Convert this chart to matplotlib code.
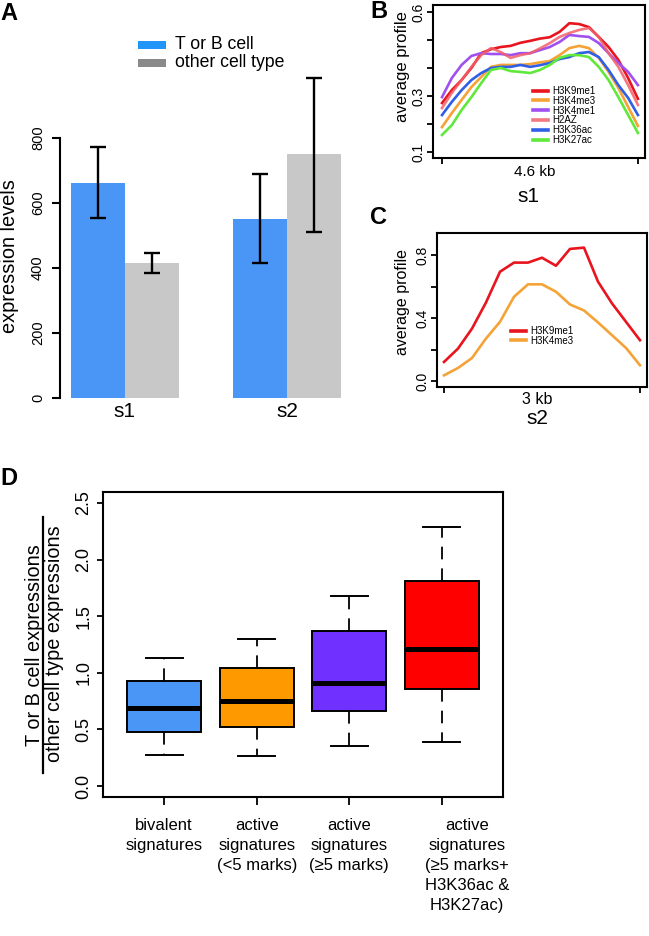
import matplotlib
matplotlib.use("Agg")
import matplotlib.pyplot as plt
from matplotlib.lines import Line2D
from matplotlib.patches import Rectangle
from matplotlib.transforms import blended_transform_factory
import numpy as np

plt.rcParams['font.family'] = ['Liberation Sans', 'DejaVu Sans']

# ---------------- data ----------------
# Panel A
groups = ['s1', 's2']
tb_mean = [662, 551]
tb_lo = [554, 416]
tb_hi = [772, 688]
other_mean = [415, 751]
other_lo = [385, 512]
other_hi = [446, 985]
legend_a = ['T or B cell', 'other cell type']

# Panel B (s1, 4.6 kb profiles)
b_names = ['H3K9me1', 'H3K4me3', 'H3K4me1', 'H2AZ', 'H3K36ac', 'H3K27ac']
b_H3K9me1 = [0.275, 0.321, 0.357, 0.400, 0.453, 0.467, 0.475, 0.479, 0.490, 0.497, 0.505,
             0.510, 0.529, 0.560, 0.557, 0.546, 0.511, 0.475, 0.429, 0.364, 0.290]
b_H3K4me3 = [0.189, 0.239, 0.286, 0.332, 0.368, 0.404, 0.411, 0.411, 0.411, 0.414, 0.420,
             0.425, 0.446, 0.471, 0.479, 0.471, 0.436, 0.386, 0.329, 0.261, 0.193]
b_H3K4me1 = [0.296, 0.364, 0.411, 0.443, 0.453, 0.450, 0.450, 0.446, 0.453, 0.453, 0.464,
             0.475, 0.493, 0.518, 0.514, 0.511, 0.489, 0.453, 0.418, 0.386, 0.339]
b_H2AZ = [0.257, 0.311, 0.357, 0.404, 0.446, 0.471, 0.457, 0.436, 0.446, 0.453, 0.470,
          0.489, 0.511, 0.525, 0.536, 0.543, 0.511, 0.453, 0.404, 0.339, 0.268]
b_H3K36ac = [0.232, 0.279, 0.321, 0.357, 0.382, 0.400, 0.404, 0.404, 0.411, 0.404, 0.410,
             0.418, 0.432, 0.439, 0.453, 0.457, 0.439, 0.393, 0.339, 0.293, 0.232]
b_H3K27ac = [0.161, 0.196, 0.250, 0.296, 0.346, 0.393, 0.400, 0.389, 0.386, 0.382, 0.393,
             0.411, 0.436, 0.446, 0.446, 0.439, 0.404, 0.357, 0.296, 0.232, 0.168]

# Panel C (s2, 3 kb profiles)
c_names = ['H3K9me1', 'H3K4me3']
c_H3K9me1 = [0.121, 0.206, 0.333, 0.499, 0.694, 0.752, 0.752, 0.783, 0.732, 0.839, 0.847,
             0.631, 0.493, 0.376, 0.259]
c_H3K4me3 = [0.036, 0.083, 0.146, 0.270, 0.376, 0.535, 0.614, 0.614, 0.567, 0.486, 0.448,
             0.372, 0.291, 0.210, 0.100]

# Panel D (box plots)
d_labels = ['bivalent\nsignatures',
            'active\nsignatures\n(<5 marks)',
            'active\nsignatures\n(\u22655 marks)',
            'active\nsignatures\n(\u22655 marks+\nH3K36ac &\nH3K27ac)']
d_whislo = [0.27, 0.265, 0.35, 0.39]
d_q1 = [0.48, 0.52, 0.665, 0.86]
d_med = [0.69, 0.75, 0.91, 1.21]
d_q3 = [0.93, 1.04, 1.37, 1.81]
d_whishi = [1.13, 1.30, 1.68, 2.29]

# ---------------- figure ----------------
W, H = 649, 936
fig = plt.figure(figsize=(W / 100, H / 100), dpi=100)


def add_ax(l, t, r, b):
    return fig.add_axes([l / W, 1 - b / H, (r - l) / W, (b - t) / H])


def ftext(x, y, s, **kw):
    return fig.text(x / W, 1 - y / H, s, **kw)


def rot_yticks(ax, size, pad, length, width=1.3):
    ax.tick_params(axis='y', labelrotation=90, labelsize=size, pad=pad,
                   length=length, width=width)
    for lab in ax.get_yticklabels():
        lab.set_va('center')


# ---------- Panel A ----------
axA = add_ax(60, 60, 352, 398)
cols_bar = ['#4A96F7', '#C8C8C8']
cols_leg = ['#2196F8', '#8A8A8A']
gx = np.array([2.0, 5.0])
axA.bar(gx - 0.5, tb_mean, width=1.0, color=cols_bar[0], linewidth=0)
axA.bar(gx + 0.5, other_mean, width=1.0, color=cols_bar[1], linewidth=0)
tb_err = [np.array(tb_mean) - np.array(tb_lo), np.array(tb_hi) - np.array(tb_mean)]
ot_err = [np.array(other_mean) - np.array(other_lo), np.array(other_hi) - np.array(other_mean)]
axA.errorbar(gx - 0.5, tb_mean, yerr=tb_err, fmt='none', ecolor='black',
             elinewidth=1.7, capsize=5.8, capthick=1.7, clip_on=False)
axA.errorbar(gx + 0.5, other_mean, yerr=ot_err, fmt='none', ecolor='black',
             elinewidth=1.7, capsize=5.8, capthick=1.7, clip_on=False)
axA.set_xlim(0.8, 6.2)
axA.set_ylim(0, 1040)
for s in ['top', 'right', 'bottom']:
    axA.spines[s].set_visible(False)
axA.spines['left'].set_bounds(0, 800)
axA.spines['left'].set_linewidth(1.5)
axA.set_yticks([0, 200, 400, 600, 800])
rot_yticks(axA, 10.5, 5, 5.8, 1.5)
axA.set_xticks(gx)
axA.set_xticklabels(groups, fontsize=15)
axA.tick_params(axis='x', length=0, pad=3)
ftext(10, 256, 'expression levels', rotation=90, ha='center', va='center', fontsize=14.4)
# legend A
for i, (lab, c) in enumerate(zip(legend_a, cols_leg)):
    y0 = 41 + i * 18
    fig.add_artist(Rectangle((138 / W, 1 - (y0 + 8) / H), 28 / W, 8 / H,
                             transform=fig.transFigure, color=c, lw=0))
    ftext(175, 49.3 + i * 17.5, lab, fontsize=12.7, va='baseline', ha='left')
ftext(0, 20, 'A', fontsize=17, fontweight='bold', ha='left', va='baseline')

# ---------- Panel B ----------
axB = add_ax(433, 5, 645, 158)
b_series = [b_H3K9me1, b_H3K4me3, b_H3K4me1, b_H2AZ, b_H3K36ac, b_H3K27ac]
b_cols = ['#E8141E', '#F5A336', '#A050F0', '#F2606A', '#2F5FE6', '#60E83A']
b_alpha = [1, 1, 1, 0.85, 1, 1]
xb = np.arange(len(b_H3K9me1))
handles = []
for ser, c, a, n in zip(b_series, b_cols, b_alpha, b_names):
    h, = axB.plot(xb, ser, color=c, lw=1.9, alpha=a, label=n)
    handles.append(h)
axB.set_xlim(-0.92, 20.72)
axB.set_ylim(0.0786, 0.625)
axB.set_yticks([0.1, 0.2, 0.3, 0.4, 0.5, 0.6])
axB.set_yticklabels(['0.1', '', '0.3', '', '', '0.6'])
rot_yticks(axB, 10, 1.5, 4, 1.3)
axB.set_xticks([0, 20])
axB.set_xticklabels(['', ''])
axB.tick_params(axis='x', length=4.5, width=1.3)
for s in axB.spines.values():
    s.set_linewidth(1.5)
leg = axB.legend(handles=handles, loc='upper left',
                 bbox_to_anchor=((533 - 433) / 212, 1 - (86 - 5) / 153),
                 frameon=False, fontsize=7, handlelength=1.55, handletextpad=0.45,
                 labelspacing=-0.02, borderpad=0, borderaxespad=0)
for l in leg.get_lines():
    l.set_linewidth(2.6)
ftext(403, 67, 'average profile', rotation=90, ha='center', va='center', fontsize=12)
ftext(535, 172, '4.6 kb', ha='center', va='center', fontsize=11)
ftext(528, 197, 's1', ha='center', va='center', fontsize=15)
ftext(370, 18, 'B', fontsize=17, fontweight='bold', ha='left', va='baseline')

# ---------- Panel C ----------
axC = add_ax(437, 233, 647, 387)
xc = np.arange(len(c_H3K9me1))
hc = []
for ser, c, n in zip([c_H3K9me1, c_H3K4me3], ['#E8141E', '#F5A336'], c_names):
    h, = axC.plot(xc, ser, color=c, lw=1.9, label=n)
    hc.append(h)
axC.set_xlim(-0.5, 14.5)
axC.set_ylim(-0.038, 0.94)
axC.set_yticks([0.0, 0.2, 0.4, 0.6, 0.8])
axC.set_yticklabels(['0.0', '', '0.4', '', '0.8'])
rot_yticks(axC, 10, 1.5, 4, 1.3)
axC.set_xticks([0, 14])
axC.set_xticklabels(['', ''])
axC.tick_params(axis='x', length=4.5, width=1.3)
for s in axC.spines.values():
    s.set_linewidth(1.5)
legc = axC.legend(handles=hc, loc='upper left',
                  bbox_to_anchor=((511 - 437) / 210, 1 - (326 - 233) / 154),
                  frameon=False, fontsize=7, handlelength=1.55, handletextpad=0.45,
                  labelspacing=-0.02, borderpad=0, borderaxespad=0)
for l in legc.get_lines():
    l.set_linewidth(2.6)
ftext(403, 302, 'average profile', rotation=90, ha='center', va='center', fontsize=11.5)
ftext(537, 400, '3 kb', ha='center', va='center', fontsize=11.5)
ftext(537, 418, 's2', ha='center', va='center', fontsize=15)
ftext(370, 224, 'C', fontsize=17, fontweight='bold', ha='left', va='baseline')

# ---------- Panel D ----------
axD = add_ax(103, 492, 503, 797)
d_cols = ['#4A96F7', '#FF9900', '#7030FF', '#FF0000']
stats = []
for i in range(4):
    stats.append(dict(whislo=d_whislo[i], q1=d_q1[i], med=d_med[i], q3=d_q3[i],
                      whishi=d_whishi[i], fliers=[]))
bp = axD.bxp(stats, positions=[1, 2, 3, 4], widths=0.8, capwidths=0.4,
             patch_artist=True, showfliers=False,
             boxprops=dict(linewidth=1.4, edgecolor='black'),
             whiskerprops=dict(linewidth=1.3, linestyle=(0, (7, 5)), color='black'),
             capprops=dict(linewidth=1.4, color='black'),
             medianprops=dict(linewidth=3.6, color='black', solid_capstyle='butt'))
for patch, c in zip(bp['boxes'], d_cols):
    patch.set_facecolor(c)
axD.set_xlim(0.34, 4.66)
axD.set_ylim(-0.097, 2.597)
axD.set_yticks([0.0, 0.5, 1.0, 1.5, 2.0, 2.5])
axD.set_yticklabels(['0.0', '0.5', '1.0', '1.5', '2.0', '2.5'])
rot_yticks(axD, 13, 3, 4.5, 1.3)
axD.set_xticks([1, 2, 3, 4])
axD.set_xticklabels(['', '', '', ''])
axD.tick_params(axis='x', length=5.5, width=1.3)
for s in axD.spines.values():
    s.set_linewidth(1.5)
trD = blended_transform_factory(axD.transData, fig.transFigure)
label_x = [1, 2, 3, 4.27]
for x, lab in zip(label_x, d_labels):
    axD.text(x, 1 - 818 / H, lab, transform=trD, ha='center', va='top',
             fontsize=12, linespacing=1.42, multialignment='center')
ftext(35, 645, 'T or B cell expressions', rotation=90, ha='center', va='center', fontsize=14.3)
ftext(55, 644, 'other cell type expressions', rotation=90, ha='center', va='center', fontsize=14.3)
fig.add_artist(Line2D([43 / W, 43 / W], [1 - 517 / H, 1 - 773 / H], lw=1.6, color='black'))
ftext(0, 485, 'D', fontsize=17, fontweight='bold', ha='left', va='baseline')

fig.savefig('out.png', dpi=100)
